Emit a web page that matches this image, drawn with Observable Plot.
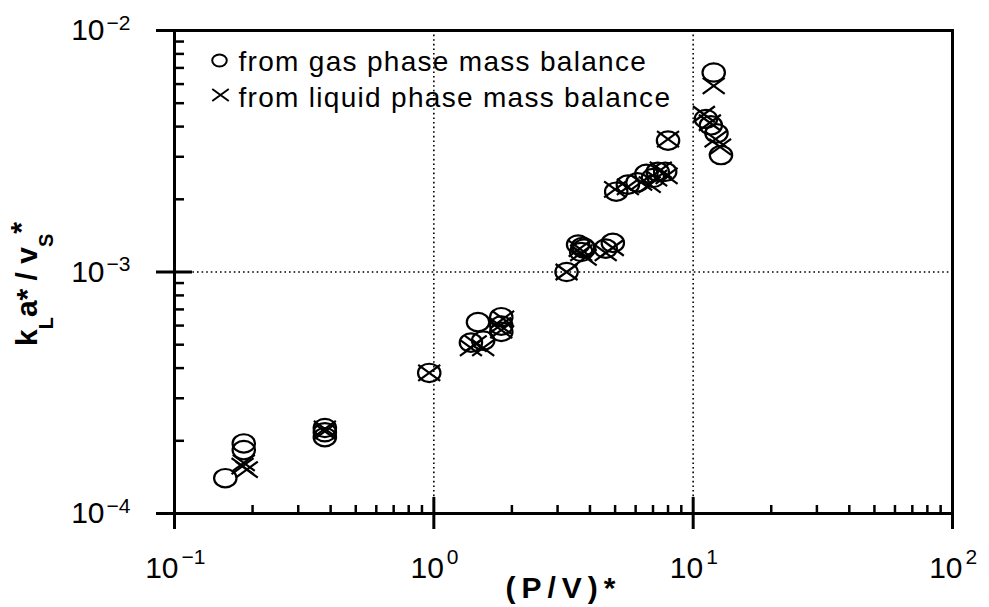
<!DOCTYPE html>
<html><head><meta charset="utf-8">
<script src="https://cdn.jsdelivr.net/npm/d3@7"></script>
<script src="https://cdn.jsdelivr.net/npm/@observablehq/plot@0.6"></script>
<style>body{margin:0;background:#fff}</style>
</head><body><div id="chart"></div>
<script>
// ---- data ----
const xTicks = [0.1, 1, 10, 100];
const xExps = ["\u22121", "0", "1", "2"];
const yTicks = [1e-4, 1e-3, 1e-2];
const yExps = ["\u22124", "\u22123", "\u22122"];
const xGrid = [1, 10];
const yGrid = [1e-3];
const minorMult = [2, 3, 4, 5, 6, 7, 8, 9];

const gasX = [0.157, 0.185, 0.185, 0.38, 0.38, 0.38, 0.96, 1.48, 1.39, 1.55, 1.82, 1.82, 1.82, 3.25, 3.6, 3.75, 3.7, 3.8, 4.6, 4.9, 5.05, 5.6, 6.1, 6.6, 7.0, 7.3, 7.8, 8.0, 12.0, 11.2, 11.7, 12.3, 12.8];
const gasY = [1.40e-4, 1.95e-4, 1.83e-4, 2.26e-4, 2.07e-4, 2.17e-4, 3.82e-4, 6.2e-4, 5.1e-4, 5.2e-4, 6.5e-4, 6.0e-4, 5.65e-4, 1.0e-3, 1.3e-3, 1.27e-3, 1.21e-3, 1.25e-3, 1.25e-3, 1.32e-3, 2.15e-3, 2.3e-3, 2.35e-3, 2.55e-3, 2.45e-3, 2.6e-3, 2.6e-3, 3.5e-3, 6.7e-3, 4.3e-3, 4.05e-3, 3.75e-3, 3.05e-3];

const liqX = [0.185, 0.19, 0.183, 0.38, 0.38, 0.96, 1.39, 1.45, 1.55, 1.85, 1.8, 1.82, 3.25, 3.65, 3.85, 3.7, 4.6, 4.9, 5.0, 5.6, 6.3, 6.8, 7.2, 7.5, 7.9, 8.0, 12.0, 11.0, 11.6, 12.2, 12.7];
const liqY = [1.62e-4, 1.52e-4, 1.57e-4, 2.24e-4, 2.19e-4, 3.82e-4, 4.85e-4, 5.05e-4, 4.85e-4, 6.4e-4, 6.0e-4, 5.75e-4, 1.0e-3, 1.25e-3, 1.15e-3, 1.2e-3, 1.2e-3, 1.26e-3, 2.2e-3, 2.25e-3, 2.35e-3, 2.3e-3, 2.45e-3, 2.65e-3, 2.5e-3, 3.55e-3, 5.9e-3, 4.5e-3, 4.15e-3, 3.55e-3, 3.3e-3];

const legendLabels = ["from gas phase mass balance", "from liquid phase mass balance"];
const xTitle = "(P/V)*";

// ---- derived tables ----
const gas = gasX.map((x, i) => ({x, y: gasY[i]}));
const liq = liqX.map((x, i) => ({x, y: liqY[i]}));
const xMinor = [0.1, 1, 10].flatMap(d => minorMult.map(m => d * m));
const yMinor = [1e-4, 1e-3].flatMap(d => minorMult.map(m => d * m));

// ---- symbols ----
const ellipse = {draw(ctx, size) {
  const r = Math.sqrt(size / Math.PI), rx = r * 1.12, ry = r * 0.92, k = 0.5523;
  ctx.moveTo(rx, 0);
  ctx.bezierCurveTo(rx, ry * k, rx * k, ry, 0, ry);
  ctx.bezierCurveTo(-rx * k, ry, -rx, ry * k, -rx, 0);
  ctx.bezierCurveTo(-rx, -ry * k, -rx * k, -ry, 0, -ry);
  ctx.bezierCurveTo(rx * k, -ry, rx, -ry * k, rx, 0);
  ctx.closePath();
}};
const cross = {draw(ctx, size) {
  const r = Math.sqrt(size / Math.PI), a = r * 1.1, b = r * 0.8;
  ctx.moveTo(-a, -b); ctx.lineTo(a, b);
  ctx.moveTo(-a, b); ctx.lineTo(a, -b);
}};

const W = 989, H = 607, mL = 174, mR = 37, mT = 30, mB = 94;
const iw = W - mL - mR, ih = H - mT - mB;
const font = "Liberation Sans, Arial, Helvetica, sans-serif";

const xLabelMarks = xTicks.flatMap((t, i) => {
  const off = xExps[i].length > 1 ? 4 : 10;
  return [
    Plot.text([t], {x: d => d, text: () => "10", frameAnchor: "bottom", lineAnchor: "bottom", textAnchor: "end", dx: off, dy: 64, fontSize: 30}),
    Plot.text([t], {x: d => d, text: () => xExps[i], frameAnchor: "bottom", lineAnchor: "bottom", textAnchor: "start", dx: off + 3, dy: 50, fontSize: 21})
  ];
});
const yLabelMarks = yTicks.flatMap((t, i) => [
  Plot.text([t], {y: d => d, text: () => "10", frameAnchor: "left", lineAnchor: "middle", textAnchor: "end", dx: -70, fontSize: 30}),
  Plot.text([t], {y: d => d, text: () => yExps[i], frameAnchor: "left", lineAnchor: "bottom", textAnchor: "start", dx: -68, dy: -1, fontSize: 21})
]);

const plot = Plot.plot({
  width: W, height: H,
  marginLeft: mL, marginRight: mR, marginTop: mT, marginBottom: mB,
  style: {fontFamily: font, background: "white", color: "black"},
  x: {type: "log", domain: [0.1, 100], axis: null},
  y: {type: "log", domain: [1e-4, 1e-2], axis: null},
  marks: [
    Plot.ruleX(xGrid, {x: d => d, stroke: "black", strokeWidth: 1.6, strokeDasharray: "1.6,3"}),
    Plot.ruleY(yGrid, {y: d => d, stroke: "black", strokeWidth: 1.6, strokeDasharray: "1.6,3"}),
    Plot.tickX(xMinor, {x: d => d, insetTop: ih - 8, strokeWidth: 2.5}),
    Plot.tickX(xTicks, {x: d => d, insetTop: ih - 16, insetBottom: -16, strokeWidth: 3}),
    Plot.tickY(yMinor, {y: d => d, insetRight: iw - 10, strokeWidth: 2.5}),
    Plot.tickY(yTicks, {y: d => d, insetLeft: -18, insetRight: iw - 18, strokeWidth: 3}),
    Plot.frame({stroke: "black", strokeWidth: 3}),
    Plot.dot(gas, {x: "x", y: "y", symbol: ellipse, r: 10, stroke: "black", strokeWidth: 2.2, fill: "none"}),
    Plot.dot(liq, {x: "x", y: "y", symbol: cross, r: 10, stroke: "black", strokeWidth: 2.2, fill: "none"}),
    ...xLabelMarks,
    ...yLabelMarks,
    Plot.dot([0], {frameAnchor: "top-left", dx: 45, dy: 30, symbol: ellipse, r: 6.5, stroke: "black", strokeWidth: 2, fill: "none"}),
    Plot.dot([0], {frameAnchor: "top-left", dx: 46, dy: 64.5, symbol: cross, r: 7.5, stroke: "black", strokeWidth: 2, fill: "none"}),
    Plot.text([legendLabels[0]], {frameAnchor: "top-left", textAnchor: "start", lineAnchor: "middle", dx: 64, dy: 31.5, fontSize: 28}),
    Plot.text([legendLabels[1]], {frameAnchor: "top-left", textAnchor: "start", lineAnchor: "middle", dx: 64, dy: 68, fontSize: 28}),
    Plot.text([xTitle], {frameAnchor: "bottom", textAnchor: "middle", lineAnchor: "bottom", dx: 0, dy: 84, fontSize: 30, fontWeight: "bold"})
  ]
});

const svg = d3.select(plot);
svg.selectAll("text").filter(function() { return legendLabels.includes(this.textContent); })
  .attr("letter-spacing", "1.3px");
svg.selectAll("text").filter(function() { return this.textContent === xTitle; })
  .attr("letter-spacing", "6px");

// y-axis title with sub/superscripts
const yt = svg.append("text")
  .attr("transform", "translate(37,284) rotate(-90)")
  .attr("text-anchor", "middle")
  .attr("font-family", font)
  .attr("font-weight", "bold")
  .attr("font-size", 30)
  .attr("fill", "black");
yt.append("tspan").text("k");
yt.append("tspan").attr("font-size", 20).attr("dy", 16).text("L");
yt.append("tspan").attr("dy", -16).text("a* / v");
yt.append("tspan").attr("font-size", 20).attr("dy", 16).text("S");
yt.append("tspan").attr("dy", -22).text("*");

document.getElementById("chart").appendChild(plot);
</script>
</body></html>
